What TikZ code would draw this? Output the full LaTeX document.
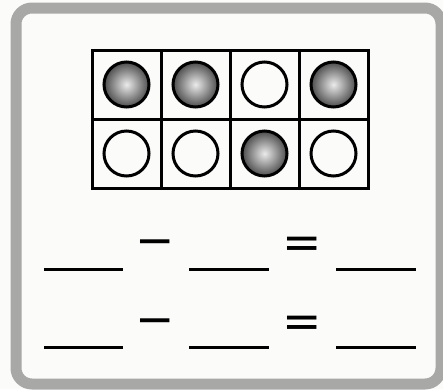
\documentclass[tikz,border=0pt]{standalone}
\usepackage{fontspec}
\setmainfont{DejaVu Sans}
\usepackage{tikz}
\usetikzlibrary{positioning}
\definecolor{framegray}{HTML}{A8A9A7}
\definecolor{paper}{HTML}{FBFBFA}

\begin{document}
\begin{tikzpicture}[x=1pt, y=-1pt, node distance=0pt, cell/.style={draw, line width=3pt, minimum size=69pt, inner sep=0pt, outer sep=0pt}, counter/.style={draw, circle, line width=3pt, minimum size=45pt, inner sep=0pt}, full/.style={counter, shading=radial, inner color=black!8, outer color=black!70}, blank/.style={line width=3pt}, sign/.style={inner sep=0pt, font=\fontsize{47}{50}\selectfont}]
\useasboundingbox[fill=paper] (0,0) rectangle (443,389);
\draw[framegray, line width=11pt, rounded corners=16pt] (16,8) rectangle (441,384);
\node[cell] (a1) at (126.5,84.5) {};
\node[cell,right=of a1] (a2) {};
\node[cell,right=of a2] (a3) {};
\node[cell,right=of a3] (a4) {};
\node[cell,below=of a1] (b1) {};
\node[cell,right=of b1] (b2) {};
\node[cell,right=of b2] (b3) {};
\node[cell,right=of b3] (b4) {};
\node[full] (ca1) at (a1) {};
\node[full] (ca2) at (a2) {};
\node[counter] (ca3) at (a3) {};
\node[full] (ca4) at (a4) {};
\node[counter] (cb1) at (b1) {};
\node[counter] (cb2) at (b2) {};
\node[full] (cb3) at (b3) {};
\node[counter] (cb4) at (b4) {};
% first number sentence
\draw[blank] (44,269) -- (123,269);
\node[sign] (minusA) at (155.5,248) {−};
\draw[blank] (189,269) -- (269,269);
\node[sign] (equalsA) at (302,248) {=};
\draw[blank] (336,269) -- (416,269);
% second number sentence
\draw[blank] (44,347) -- (123,347);
\node[sign] (minusB) at (155.5,327) {−};
\draw[blank] (189,347) -- (269,347);
\node[sign] (equalsB) at (302,326.5) {=};
\draw[blank] (336,347) -- (416,347);
\end{tikzpicture}
\end{document}
